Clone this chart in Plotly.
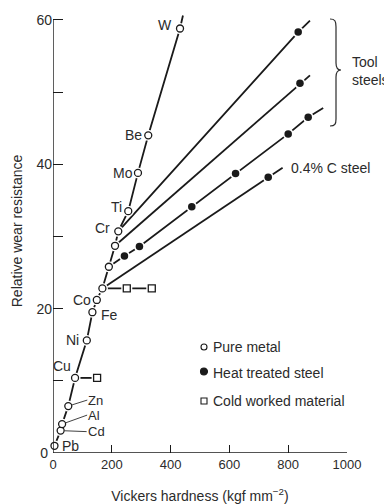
import plotly.graph_objects as go

FONT = "Liberation Sans, Arial, Helvetica, sans-serif"
INK = "#1a1a1a"
TEXT = "#2b2b2b"

# ---------------- data ----------------
# Pure metals: Vickers hardness (kgf mm^-2) and relative wear resistance
metal_names = ["Pb", "Cd", "Al", "Zn", "Cu", "Ni", "Fe", "Co",
               "", "", "", "Cr", "Ti", "Mo", "Be", "W"]
metal_hv = [5, 26, 31, 52, 75, 115, 134, 149,
            168, 190, 211, 222, 256, 289, 324, 432]
metal_wr = [1.0, 3.1, 4.0, 6.5, 10.4, 15.6, 19.5, 21.2,
            22.8, 25.8, 28.7, 30.7, 33.5, 38.8, 44.0, 58.8]

# Heat treated steels, one list per trend line
tool_a_hv = [834]
tool_a_wr = [58.3]
tool_b_hv = [840]
tool_b_wr = [51.2]
tool_c_hv = [243, 294, 472, 621, 800, 868]
tool_c_wr = [27.3, 28.6, 34.1, 38.7, 44.2, 46.5]
c04_hv = [732]
c04_wr = [38.2]

# Cold worked material
cold_hv = [150, 251, 336]
cold_wr = [10.4, 22.8, 22.8]
cold_from = [4, 8, 8]          # index of the pure metal each one is worked from

# Where each trend line starts (pure-metal index) and where the drawn line stops
tool_a_from, tool_b_from, tool_c_from, c04_from = 11, 10, 9, 8
metal_end_hv, metal_end_wr = 442, 60.6
tool_a_end_hv, tool_a_end_wr = 874, 59.9
tool_b_end_hv, tool_b_end_wr = 874, 52.3
tool_c_end_hv, tool_c_end_wr = 919, 47.8
c04_end_hv, c04_end_wr = 781, 39.5

x_ticks = [0, 200, 400, 600, 800, 1000]
y_ticks = [0, 20, 40, 60]
y_ticktext = ["0\u00a0", "20", "40", "60"]
y_minor_ticks = [10, 30, 50]

# ---------------- figure ----------------
fig = go.Figure()


def line_trace(xs, ys):
    fig.add_trace(go.Scatter(x=xs, y=ys, mode="lines", showlegend=False,
                             hoverinfo="skip",
                             line=dict(color=INK, width=1.8)))


# pure-metal trend line
line_trace(metal_hv + [metal_end_hv], metal_wr + [metal_end_wr])

# steel trend lines
for start, hv, wr, ehv, ewr in [
    (tool_a_from, tool_a_hv, tool_a_wr, tool_a_end_hv, tool_a_end_wr),
    (tool_b_from, tool_b_hv, tool_b_wr, tool_b_end_hv, tool_b_end_wr),
    (tool_c_from, tool_c_hv, tool_c_wr, tool_c_end_hv, tool_c_end_wr),
    (c04_from, c04_hv, c04_wr, c04_end_hv, c04_end_wr),
]:
    line_trace([metal_hv[start]] + hv + [ehv], [metal_wr[start]] + wr + [ewr])

# cold-work segments
cx, cy = [], []
last = None
for i, (h, w) in enumerate(zip(cold_hv, cold_wr)):
    src = cold_from[i]
    if src != last:
        if cx:
            cx.append(None)
            cy.append(None)
        cx.append(metal_hv[src])
        cy.append(metal_wr[src])
        last = src
    cx.append(h)
    cy.append(w)
line_trace(cx, cy)

steel_hv = tool_a_hv + tool_b_hv + tool_c_hv + c04_hv
steel_wr = tool_a_wr + tool_b_wr + tool_c_wr + c04_wr

# white halos open small gaps in the lines around each symbol
fig.add_trace(go.Scatter(x=metal_hv + steel_hv, y=metal_wr + steel_wr,
                         mode="markers", showlegend=False, hoverinfo="skip",
                         cliponaxis=False,
                         marker=dict(symbol="circle", size=11, color="white")))
fig.add_trace(go.Scatter(x=cold_hv, y=cold_wr, mode="markers", showlegend=False,
                         hoverinfo="skip", cliponaxis=False,
                         marker=dict(symbol="square", size=11, color="white")))

fig.add_trace(go.Scatter(x=metal_hv, y=metal_wr, mode="markers", name="Pure metal",
                         cliponaxis=False, showlegend=False,
                         marker=dict(symbol="circle", size=7, color="white",
                                     line=dict(color=INK, width=1.3))))
fig.add_trace(go.Scatter(x=steel_hv, y=steel_wr, mode="markers",
                         name="Heat treated steel", cliponaxis=False, showlegend=False,
                         marker=dict(symbol="circle", size=7.5, color=INK)))
fig.add_trace(go.Scatter(x=cold_hv, y=cold_wr, mode="markers",
                         name="Cold worked material", cliponaxis=False, showlegend=False,
                         marker=dict(symbol="square", size=7, color="white",
                                     line=dict(color=INK, width=1.3))))

# ---------------- labels ----------------
annotations = []

# metal labels placed beside their points: (xanchor, xshift, yshift)
label_place = {
    "Pb": ("left", 6, 0),
    "Cu": ("right", -2, 12),
    "Ni": ("right", -6, 0),
    "Fe": ("left", 7, -3),
    "Co": ("right", -4, 0),
    "Cr": ("right", -6, 3),
    "Ti": ("right", -4, 4),
    "Mo": ("right", -3, 0),
    "Be": ("right", -4, 0),
    "W": ("right", -6, 3),
}
# labels joined to their points by a leader line: (ax, ay)
leader_place = {"Cd": (26, 1), "Al": (25, -9), "Zn": (19, -6)}

for name, h, w in zip(metal_names, metal_hv, metal_wr):
    if name in label_place:
        xa, xs, ys = label_place[name]
        annotations.append(dict(x=h, y=w, xref="x", yref="y", text=name,
                                showarrow=False, xanchor=xa, yanchor="middle",
                                xshift=xs, yshift=ys,
                                font=dict(size=14, color=TEXT, family=FONT)))
    elif name in leader_place:
        ax, ay = leader_place[name]
        annotations.append(dict(x=h, y=w, xref="x", yref="y", text=name,
                                showarrow=True, arrowhead=0, arrowwidth=0.9,
                                arrowcolor=TEXT, ax=ax, ay=ay, standoff=4,
                                xanchor="left", yanchor="middle", borderpad=0,
                                font=dict(size=13, color=TEXT, family=FONT)))

annotations.append(dict(x=c04_end_hv, y=c04_end_wr, xref="x", yref="y",
                        text="0.4% C steel", showarrow=False, xanchor="left",
                        yanchor="middle", xshift=6,
                        font=dict(size=14, color=TEXT, family=FONT)))

# plot-area geometry in pixels (used for the items placed outside the data area)
L, T, W, H = 53, 9, 294, 444


def px(x, y):
    return (x - L) / W, (T + H - y) / H


bx, by = px(350, 71.5)
annotations.append(dict(x=bx, y=by, xref="paper", yref="paper",
                        text="Tool<br>steels", showarrow=False, align="left",
                        xanchor="left", yanchor="middle",
                        font=dict(size=14, color=TEXT, family=FONT)))

# legend
legend_rows = [("Pure metal", 347), ("Heat treated steel", 373), ("Cold worked material", 401)]
shapes = []
for (label, yy), kind in zip(legend_rows, ["open", "dot", "square"]):
    tx, ty = px(211, yy)
    annotations.append(dict(x=tx, y=ty, xref="paper", yref="paper", text=label,
                            showarrow=False, xanchor="left", yanchor="middle",
                            font=dict(size=14, color=TEXT, family=FONT)))
    gx, gy = px(204, yy - (1.5 if kind == "dot" else 0))
    r = 3.5 if kind == "dot" else 3
    shapes.append(dict(type="rect" if kind == "square" else "circle",
                       xref="paper", yref="paper",
                       xsizemode="pixel", ysizemode="pixel",
                       xanchor=gx, yanchor=gy, x0=-r, x1=r, y0=-r, y1=r,
                       line=dict(color=INK, width=1.1),
                       fillcolor=INK if kind == "dot" else "white"))

# curly brace for the tool steels
brace_pts = "M {} C {} {} {} L {} C {} {} {} C {} {} {} L {} C {} {} {}"
pts = [(330, 19), (335, 19), (336, 21), (336, 27), (336, 63),
       (336, 68), (338, 70), (341, 70),
       (338, 70), (336, 72), (336, 77), (336, 119),
       (336, 124), (335, 126), (330, 126)]
path = brace_pts.format(*["{:.4f},{:.4f}".format(*px(a, b)) for a, b in pts])
shapes.append(dict(type="path", xref="paper", yref="paper", path=path,
                   line=dict(color=TEXT, width=1.2)))

# axis lines
shapes.append(dict(type="line", xref="x", yref="y", x0=0, x1=1000, y0=0, y1=0,
                   line=dict(color=INK, width=1.4)))
shapes.append(dict(type="line", xref="x", yref="y", x0=0, x1=0, y0=0, y1=60,
                   line=dict(color=INK, width=1.4)))

fig.update_layout(
    width=384, height=504,
    margin=dict(l=L, r=384 - L - W, t=T, b=504 - T - H, pad=0, autoexpand=False),
    paper_bgcolor="white", plot_bgcolor="white",
    font=dict(family=FONT, size=14, color=TEXT),
    showlegend=False,
    annotations=annotations,
    shapes=shapes,
    xaxis=dict(range=[0, 1000], tickvals=x_ticks, ticks="inside", ticklen=8,
               tickwidth=1.3, tickcolor=INK, showgrid=False, zeroline=False,
               showline=False, tickfont=dict(size=13, color=TEXT),
               ticklabelstandoff=2, automargin=False,
               title=dict(text="Vickers hardness (kgf mm<sup>−2</sup>)",
                          font=dict(size=14, color=TEXT), standoff=24)),
    yaxis=dict(range=[0, 61.5], tickvals=y_ticks, ticktext=y_ticktext,
               ticks="inside", ticklen=10, tickwidth=1.3, tickcolor=INK,
               minor=dict(tickvals=y_minor_ticks, ticks="inside", ticklen=10,
                          tickwidth=1.3, tickcolor=INK, showgrid=False),
               showgrid=False, zeroline=False, showline=False,
               tickfont=dict(size=14, color=TEXT), automargin=False,
               title=dict(text="Relative wear resistance",
                          font=dict(size=14, color=TEXT), standoff=10)),
)

fig.write_html("out.html")
